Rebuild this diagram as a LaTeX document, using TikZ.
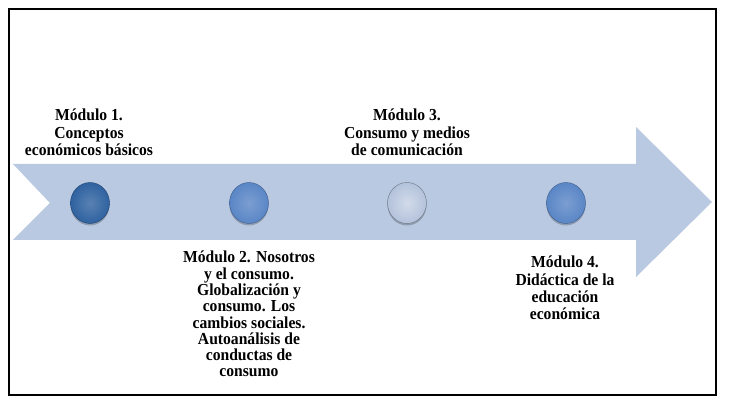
\documentclass[tikz,border=0pt]{standalone}
\usepackage{fontspec}
\usetikzlibrary{shapes.geometric}
\setmainfont{Liberation Serif}
\newfontfamily\lblfont{Liberation Serif}[FakeStretch=0.93]
\definecolor{arrowfill}{HTML}{B9C9E1}
\definecolor{dotdark}{HTML}{2F62A0}
\definecolor{dotmid}{HTML}{5A86C6}
\definecolor{dotlight}{HTML}{B3C2DB}
\begin{document}
\begin{tikzpicture}[x=1pt,y=-1pt,
  lbl/.style={inner sep=0pt,anchor=north,align=center,font=\lblfont\bfseries\fontsize{16.8}{17.2}\selectfont},
  dot/.style={ellipse,minimum width=39pt,minimum height=41pt,inner sep=0pt},
  dotshadow/.style={fill=black,opacity=0.22},
]
\useasboundingbox (0,0) rectangle (733,403);
\fill[white] (0,0) rectangle (733,403);
\draw[line width=1.3pt] (9,9) rectangle (716,395);
% arrow
\fill[arrowfill] (13,164) -- (636,164) -- (636,127) -- (712,202) -- (636,277) -- (636,240) -- (13,240) -- (50,203) -- cycle;
% dot shadows
\foreach \x in {90,249,407,566} {\fill[dotshadow] (\x,205) ellipse (19.5pt and 20.5pt);}
% dots
\node[dot,shading=radial,inner color=dotdark!80!white,outer color=dotdark,draw=dotdark!70!black,line width=0.4pt] (d1) at (90,203) {};
\node[dot,shading=radial,inner color=dotmid!80!white,outer color=dotmid,draw=dotmid!70!black,line width=0.4pt] (d2) at (249,203) {};
\node[dot,shading=radial,inner color=dotlight!60!white,outer color=dotlight,draw=dotlight!60!black,line width=0.4pt] (d3) at (407,203) {};
\node[dot,shading=radial,inner color=dotmid!80!white,outer color=dotmid,draw=dotmid!70!black,line width=0.4pt] (d4) at (566,203) {};
% labels
\node[lbl] (m1) at (89,109) {Módulo 1.\\Conceptos\\económicos básicos};
\node[lbl] (m3) at (407,109) {Módulo 3.\\Consumo y medios\\de comunicación};
\node[lbl,font=\lblfont\bfseries\fontsize{16.8}{16.3}\selectfont] (m2) at (249,251) {Módulo 2. Nosotros\\y el consumo.\\Globalización y\\consumo. Los\\cambios sociales.\\Autoanálisis de\\conductas de\\consumo};
\node[lbl] (m4) at (565,256) {Módulo 4.\\Didáctica de la\\educación\\económica};
\end{tikzpicture}
\end{document}
